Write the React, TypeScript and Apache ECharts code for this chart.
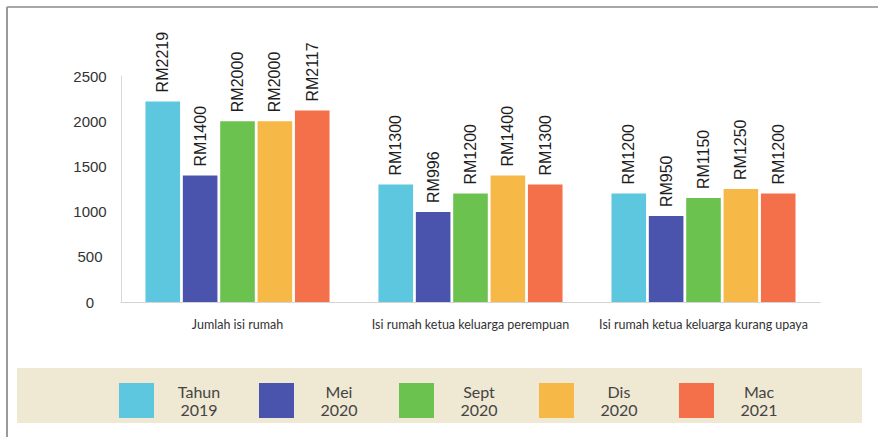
import React, { useEffect, useRef } from "react";
import * as echarts from "echarts";

const categories = [
  "Jumlah isi rumah",
  "Isi rumah ketua keluarga perempuan",
  "Isi rumah ketua keluarga kurang upaya",
];
const seriesNames = ["Tahun\n2019", "Mei\n2020", "Sept\n2020", "Dis\n2020", "Mac\n2021"];
const tahun2019 = [2219, 1300, 1200];
const mei2020 = [1400, 996, 950];
const sept2020 = [2000, 1200, 1150];
const dis2020 = [2000, 1400, 1250];
const mac2021 = [2117, 1300, 1200];
const seriesValues = [tahun2019, mei2020, sept2020, dis2020, mac2021];
const colors = ["#5cc7de", "#4a54ad", "#6cc24e", "#f6b846", "#f3704a"];
const yTicks = { min: 0, max: 2500, interval: 500 };

export default function App() {
  const ref = useRef<HTMLDivElement>(null);
  useEffect(() => {
    if (!ref.current) return;
    const chart = echarts.init(ref.current, null, { renderer: "svg" });
    chart.setOption({
      animation: false,
      backgroundColor: "#ffffff",
      graphic: [
        {
          type: "rect",
          z: -10,
          silent: true,
          shape: { x: 17, y: 368, width: 845, height: 55 },
          style: { fill: "#efe8d3" },
        },
        {
          type: "line",
          silent: true,
          shape: { x1: 7, y1: 7, x2: 878, y2: 7 },
          style: { stroke: "#a8a8a8", lineWidth: 2 },
        },
        {
          type: "line",
          silent: true,
          shape: { x1: 7, y1: 7, x2: 7, y2: 437 },
          style: { stroke: "#9a9a9a", lineWidth: 2 },
        },
      ],
      grid: { left: 121, right: 58, top: 76, bottom: 135 },
      legend: {
        left: 114,
        top: 378,
        itemWidth: 35,
        itemHeight: 35,
        itemGap: 20,
        icon: "rect",
        formatter: (name: string) =>
          name
            .split("\n")
            .map((s) => "{t|" + s + "}")
            .join("\n"),
        textStyle: {
          fontWeight: "normal",
          rich: {
            t: {
              width: 80,
              align: "center",
              fontFamily: "Lato",
              fontWeight: "normal",
              fontSize: 16,
              lineHeight: 18,
              color: "#444444",
            },
          },
        },
      },
      xAxis: {
        type: "category",
        data: categories,
        axisLine: { show: true, lineStyle: { color: "#d4d4d4", width: 1 } },
        axisTick: { show: false },
        axisLabel: {
          interval: 0,
          margin: 16,
          fontFamily: "Lato",
          fontSize: 12.5,
          color: "#333333",
        },
      },
      yAxis: {
        type: "value",
        min: yTicks.min,
        max: yTicks.max,
        interval: yTicks.interval,
        axisLine: { show: true, lineStyle: { color: "#d8d8d8", width: 1 } },
        axisTick: { show: false },
        splitLine: { show: false },
        axisLabel: {
          align: "center",
          margin: 31,
          formatter: (v: number) => String(v),
          fontFamily: "Liberation Sans",
          fontSize: 15,
          color: "#333333",
        },
      },
      series: seriesNames.map((name, i) => ({
        name,
        type: "bar",
        data: seriesValues[i],
        barGap: "8%",
        barCategoryGap: "21%",
        itemStyle: { color: colors[i] },
        label: {
          show: true,
          position: "top",
          rotate: 90,
          align: "left",
          verticalAlign: "middle",
          distance: 9,
          formatter: "RM{c}",
          fontFamily: "Liberation Sans",
          fontSize: 16,
          color: "#1e1e1e",
        },
      })),
    });
    return () => chart.dispose();
  }, []);
  return (
    <div
      ref={ref}
      style={{ position: "absolute", left: 0, top: 0, width: 878, height: 437 }}
    />
  );
}
